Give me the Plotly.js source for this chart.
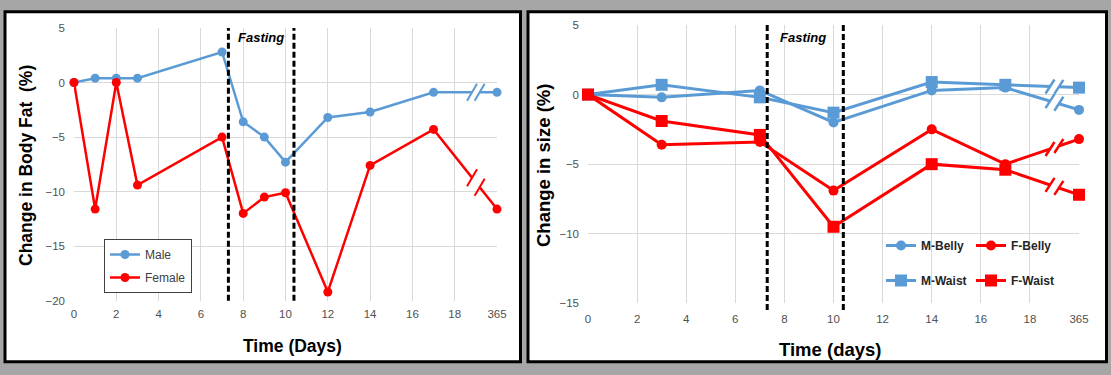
<!DOCTYPE html>
<html><head><meta charset="utf-8">
<script src="https://cdn.plot.ly/plotly-3.0.1.min.js"></script>
<style>html,body{margin:0;padding:0;background:#a6a6a6;overflow:hidden}</style>
</head><body><div id="chart" style="width:1111px;height:375px"></div>
<script>
// ---- Data ----
const tickDays = [0, 2, 4, 6, 8, 10, 12, 14, 16, 18, 20];
const tickLabels = ['0', '2', '4', '6', '8', '10', '12', '14', '16', '18', '365'];

// Left panel: change in body fat (%)  (day 365 drawn at slot 20)
const fatDays = [0, 1, 2, 3, 7, 8, 9, 10, 12, 14, 17, 20];
const fatMale = [0, 0.4, 0.4, 0.4, 2.8, -3.6, -5.0, -7.3, -3.2, -2.7, -0.9, -0.9];
const fatFemale = [0, -11.6, 0, -9.4, -5.0, -12.0, -10.5, -10.1, -19.2, -7.6, -4.3, -11.6];

// Right panel: change in size (%)
const sizeDays = [0, 3, 7, 10, 14, 17, 20];
const mBelly = [0, -0.2, 0.3, -2.0, 0.3, 0.5, -1.1];
const mWaist = [0, 0.7, -0.2, -1.3, 0.9, 0.7, 0.5];
const fBelly = [0, -3.6, -3.4, -6.9, -2.5, -5.0, -3.2];
const fWaist = [0, -1.9, -2.9, -9.5, -5.0, -5.4, -7.2];

const fastStart = 7.3, fastEnd = 10.4;
const breakDay = 19;

// ---- Layout helpers ----
const W = 1111, H = 375;
const px = v => v / W;
const py = v => 1 - v / H;
const BLUE = '#5b9bd5', RED = '#ff0000';
const FONT = 'Liberation Sans, Arial, sans-serif';
const tickFont = {family: FONT, size: 11.5, color: '#505050'};

function lineTrace(x, y, name, color, symbol, size, width, xa, ya, legend) {
  return {
    x: x, y: y, name: name, type: 'scatter', mode: 'lines+markers',
    xaxis: xa, yaxis: ya, legend: legend, cliponaxis: false,
    line: {color: color, width: width},
    marker: {color: color, symbol: symbol, size: size},
    hoverinfo: 'skip'
  };
}

const traces = [
  Object.assign(lineTrace(fatDays, fatMale, 'Male', BLUE, 'circle', 9, 2.5, 'x', 'y', 'legend'), {legendgroup: 'a'}),
  Object.assign(lineTrace(fatDays, fatFemale, 'Female', RED, 'circle', 9, 2.5, 'x', 'y', 'legend'), {legendgroup: 'b'}),
  lineTrace(sizeDays, mBelly, 'M-Belly', BLUE, 'circle', 10, 3, 'x2', 'y2', 'legend2'),
  lineTrace(sizeDays, fBelly, 'F-Belly', RED, 'circle', 10, 3, 'x2', 'y2', 'legend2'),
  lineTrace(sizeDays, mWaist, 'M-Waist', BLUE, 'square', 12, 3, 'x2', 'y2', 'legend3'),
  lineTrace(sizeDays, fWaist, 'F-Waist', RED, 'square', 12, 3, 'x2', 'y2', 'legend3')
];

// ---- Shapes ----
const shapes = [
  {type: 'rect', xref: 'paper', yref: 'paper', x0: px(5), x1: px(520.5), y0: py(361.7), y1: py(11.7),
   fillcolor: '#ffffff', line: {color: '#000000', width: 3}, layer: 'below'},
  {type: 'rect', xref: 'paper', yref: 'paper', x0: px(528), x1: px(1106.5), y0: py(361.7), y1: py(11.7),
   fillcolor: '#ffffff', line: {color: '#000000', width: 3}, layer: 'below'}
];
[[fastStart, 'x', 300.7, 28], [fastEnd, 'x', 300.7, 28], [fastStart, 'x2', 310, 25], [fastEnd, 'x2', 310, 25]].forEach(d => {
  shapes.push({type: 'line', xref: d[1], yref: 'paper', x0: d[0], x1: d[0], y0: py(d[2]), y1: py(d[3]),
    line: {color: '#000000', width: 3, dash: '6px,3px'}, layer: 'above'});
});

function addBreak(xs, ys, color, xa, ya, hw, hh, lw) {
  const n = xs.length;
  const x0 = xs[n - 2], x1 = xs[n - 1], y0 = ys[n - 2], y1 = ys[n - 1];
  const at = x => y0 + (y1 - y0) * (x - x0) / (x1 - x0);
  const d = 0.18;
  shapes.push({type: 'line', xref: xa, yref: ya, x0: breakDay - d, x1: breakDay + d,
    y0: at(breakDay - d), y1: at(breakDay + d), line: {color: '#ffffff', width: 6}});
  [breakDay - d, breakDay + d].forEach(xc => {
    shapes.push({type: 'line', xref: xa, yref: ya, xsizemode: 'pixel', ysizemode: 'pixel',
      xanchor: xc, yanchor: at(xc), x0: -hw, x1: hw, y0: -hh, y1: hh,
      line: {color: color, width: lw}});
  });
}
addBreak(fatDays, fatMale, BLUE, 'x', 'y', 5, 8.5, 2);
addBreak(fatDays, fatFemale, RED, 'x', 'y', 5, 8.5, 2);
addBreak(sizeDays, mBelly, BLUE, 'x2', 'y2', 4.5, 7, 2.5);
addBreak(sizeDays, mWaist, BLUE, 'x2', 'y2', 4.5, 7, 2.5);
addBreak(sizeDays, fBelly, RED, 'x2', 'y2', 4.5, 7, 2.5);
addBreak(sizeDays, fWaist, RED, 'x2', 'y2', 4.5, 7, 2.5);

// ---- Annotations ----
function ann(text, x, y, size, angle, xanchor) {
  return {text: text, xref: 'paper', yref: 'paper', x: px(x), y: py(y), showarrow: false,
    xanchor: xanchor || 'center', yanchor: 'middle', textangle: angle || 0,
    font: {family: FONT, size: size, color: '#000000'}};
}
const annotations = [
  ann('<b><i>Fasting</i></b>', 236, 38, 13, 0, 'left'),
  ann('<b><i>Fasting</i></b>', 778, 37, 13, 0, 'left'),
  ann('<b>Change in Body Fat&nbsp; (%)</b>', 26, 166, 17.5, -90),
  ann('<b>Time (Days)</b>', 292, 346, 17.5),
  ann('<b>Change in size (%)</b>', 543, 166, 18.5, -90),
  ann('<b>Time (days)</b>', 830, 349, 18.5)
];

function xAxis(domain, anchor, standoff) {
  return {domain: domain, anchor: anchor, range: [0, 20], tickvals: tickDays, ticktext: tickLabels,
    showgrid: true, gridcolor: '#d9d9d9', gridwidth: 1, zeroline: false, showline: false,
    ticks: '', tickfont: tickFont, fixedrange: true, ticklabelstandoff: standoff};
}
function yAxis(domain, anchor, range) {
  return {domain: domain, anchor: anchor, range: range, dtick: 5, tick0: 0,
    showgrid: true, gridcolor: '#d9d9d9', gridwidth: 1, zeroline: false, showline: false,
    ticks: '', tickfont: tickFont, fixedrange: true, ticklabelstandoff: 8};
}

const layout = {
  width: W, height: H, margin: {l: 0, r: 0, t: 0, b: 0},
  paper_bgcolor: '#a6a6a6', plot_bgcolor: 'rgba(0,0,0,0)',
  font: {family: FONT},
  xaxis: xAxis([px(74), px(497)], 'y', 5),
  yaxis: yAxis([py(300.7), py(28)], 'x', [-20, 5]),
  xaxis2: xAxis([px(588), px(1079)], 'y2', 7),
  yaxis2: yAxis([py(303.3), py(25)], 'x2', [-15, 5]),
  showlegend: true,
  legend: {x: px(104), y: py(239), xanchor: 'left', yanchor: 'top', orientation: 'v',
    traceorder: 'grouped', tracegroupgap: 4,
    bgcolor: '#ffffff', bordercolor: '#404040', borderwidth: 1,
    font: {family: FONT, size: 12, color: '#404040'}},
  legend2: {x: px(881), y: py(231), xanchor: 'left', yanchor: 'top', orientation: 'h',
    entrywidth: 45, bgcolor: 'rgba(0,0,0,0)', borderwidth: 0,
    font: {family: FONT, size: 12, color: '#262626', weight: 'bold'}},
  legend3: {x: px(881), y: py(266), xanchor: 'left', yanchor: 'top', orientation: 'h',
    entrywidth: 45, bgcolor: 'rgba(0,0,0,0)', borderwidth: 0,
    font: {family: FONT, size: 12, color: '#262626', weight: 'bold'}},
  shapes: shapes,
  annotations: annotations
};

Plotly.newPlot('chart', traces, layout, {staticPlot: true, displayModeBar: false});
</script>
</body></html>
